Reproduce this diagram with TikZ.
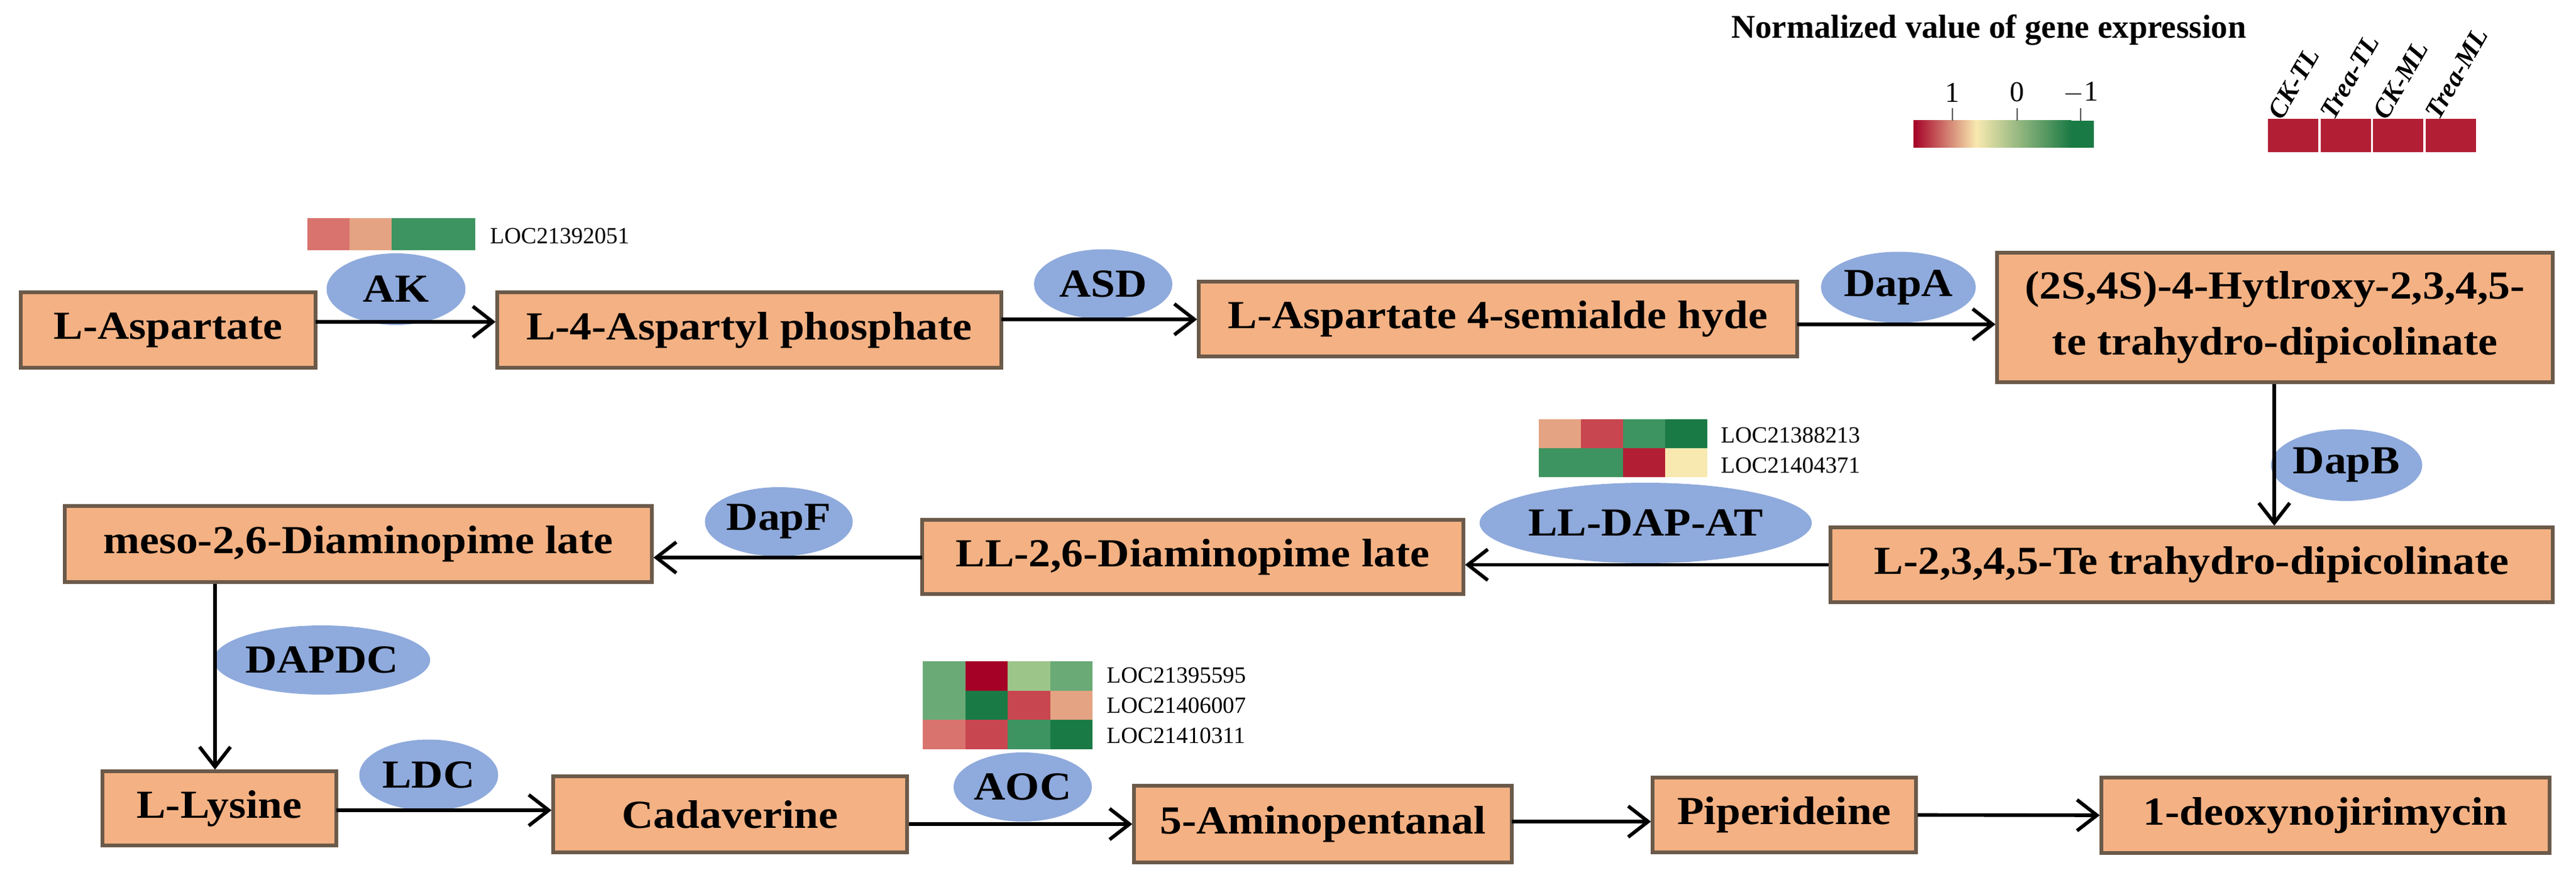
\documentclass[tikz,border=0pt]{standalone}
\usepackage{fontspec}
\setmainfont{Liberation Serif}
\newfontfamily\boxfont[FakeStretch=1.1]{Liberation Serif}
\usetikzlibrary{arrows.meta,shapes.geometric}
\definecolor{boxf}{HTML}{F4B183}
\definecolor{boxd}{HTML}{6B5A4A}
\definecolor{ell}{HTML}{8FAADC}
\definecolor{rA}{HTML}{A50026}
\definecolor{rB}{HTML}{C8464F}
\definecolor{rC}{HTML}{D9736E}
\definecolor{rD}{HTML}{E4A382}
\definecolor{yY}{HTML}{F8E9B0}
\definecolor{gA}{HTML}{1A7A45}
\definecolor{gB}{HTML}{3D9460}
\definecolor{gC}{HTML}{6AAA77}
\definecolor{gD}{HTML}{9CC58A}
\definecolor{rE}{HTML}{B21F35}
\tikzset{
 box/.style={draw=boxd,line width=1.5pt,fill=boxf,inner sep=0pt,align=center,font=\boxfont\fontsize{18}{25.5}\selectfont\bfseries},
 enz/.style={ellipse,fill=ell,inner sep=0pt,font=\boxfont\fontsize{18}{20}\selectfont\bfseries},
 arr/.style={-{Straight Barb[length=9pt,width=14pt]},line width=1.6pt},
 loc/.style={anchor=west,inner sep=0pt,font=\fontsize{10.5}{12}\selectfont}
}
\newcommand{\hmrow}[8]{\fill[#5] (#1,#2) rectangle ++(#3,-#4);\fill[#6] (#1+#3,#2) rectangle ++(#3,-#4);\fill[#7] (#1+2*#3,#2) rectangle ++(#3,-#4);\fill[#8] (#1+3*#3,#2) rectangle ++(#3,-#4);}
\begin{document}
\begin{tikzpicture}[x=1cm,y=1cm]
\useasboundingbox (0,0) rectangle (40.98,-13.92);
% legend
\node[font=\fontsize{15}{17}\selectfont\bfseries] (title) at (31.64,-0.48) {Normalized value of gene expression};
\shade[left color=rA,right color=yY] (30.44,-1.92) rectangle (31.44,-2.35);
\shade[left color=yY,right color=gA] (31.44,-1.92) rectangle (32.95,-2.35);
\fill[gA] (32.95,-1.92) rectangle (33.31,-2.35);
\foreach \x/\t in {31.06/1,32.09/0,33.10/$-$1}{
 \draw[line width=0.6pt,gray!70!black] (\x,-1.92) -- (\x,-1.72);
 \node[font=\fontsize{13}{15}\selectfont] at (\x,-1.47) {\t};}
\foreach \i/\t in {0/CK-TL,1/Trea-TL,2/CK-ML,3/Trea-ML}{
 \fill[rE] (36.08+\i*0.835,-1.89) rectangle ++(0.80,-0.53);
 \node[rotate=60,anchor=west,inner sep=0pt,font=\fontsize{12}{14}\selectfont\bfseries\itshape] at (36.18+\i*0.835,-1.86) {\t};}
% boxes
\node[box,minimum width=4.69cm,minimum height=1.20cm] (asp) at (2.675,-5.25) {L-Aspartate};
\node[box,minimum width=8.02cm,minimum height=1.20cm] (asph) at (11.92,-5.25) {L-4-Aspartyl phosphate};
\node[box,minimum width=9.52cm,minimum height=1.19cm] (asa) at (23.83,-5.075) {L-Aspartate 4-semialde hyde};
\node[box,minimum width=8.84cm,minimum height=2.06cm] (hyd) at (36.19,-5.05) {(2S,4S)-4-Hytlroxy-2,3,4,5-\\te trahydro-dipicolinate};
\node[box,minimum width=11.49cm,minimum height=1.19cm] (thd) at (34.865,-8.985) {L-2,3,4,5-Te trahydro-dipicolinate};
\node[box,minimum width=8.61cm,minimum height=1.18cm] (ll) at (18.975,-8.86) {LL-2,6-Diaminopime late};
\node[box,minimum width=9.34cm,minimum height=1.21cm] (meso) at (5.70,-8.655) {meso-2,6-Diaminopime late};
\node[box,minimum width=3.72cm,minimum height=1.18cm] (lys) at (3.49,-12.86) {L-Lysine};
\node[box,minimum width=5.63cm,minimum height=1.21cm] (cad) at (11.615,-12.955) {Cadaverine};
\node[box,minimum width=6.01cm,minimum height=1.22cm] (ami) at (21.045,-13.11) {5-Aminopentanal};
\node[box,minimum width=4.19cm,minimum height=1.19cm] (pip) at (28.385,-12.965) {Piperideine};
\node[box,minimum width=7.13cm,minimum height=1.20cm] (dnj) at (36.995,-12.97) {1-deoxynojirimycin};
% enzymes
\node[enz,minimum width=2.21cm,minimum height=1.14cm] (ak) at (6.30,-4.60) {AK};
\node[enz,minimum width=2.20cm,minimum height=1.11cm] (asd) at (17.55,-4.52) {ASD};
\node[enz,minimum width=2.19cm,minimum height=1.13cm] (dapa) at (30.20,-4.57) {DapA};
\node[enz,minimum width=2.21cm,minimum height=1.14cm] (dapb) at (37.33,-7.40) {DapB};
\node[enz,minimum width=4.54cm,minimum height=1.28cm] (lldap) at (26.18,-8.32) {LL-DAP-AT};
\node[enz,minimum width=2.18cm,minimum height=1.10cm] (dapf) at (12.39,-8.30) {DapF};
\node[enz,minimum width=3.40cm,minimum height=1.10cm] (dapdc) at (5.12,-10.50) {DAPDC};
\node[enz,minimum width=2.21cm,minimum height=1.13cm] (ldc) at (6.82,-12.33) {LDC};
\node[enz,minimum width=2.20cm,minimum height=1.10cm] (aoc) at (16.27,-12.52) {AOC};
% heatmaps
\hmrow{4.89}{-3.47}{0.6675}{0.51}{rC}{rD}{gB}{gB}
\node[loc] (l1) at (7.79,-3.75) {LOC21392051};
\hmrow{24.48}{-6.67}{0.67}{0.46}{rD}{rB}{gB}{gA}
\hmrow{24.48}{-7.13}{0.67}{0.46}{gB}{gB}{rE}{yY}
\node[loc] (l2) at (27.37,-6.92) {LOC21388213};
\node[loc] (l3) at (27.37,-7.40) {LOC21404371};
\hmrow{14.68}{-10.52}{0.675}{0.467}{gC}{rA}{gD}{gC}
\hmrow{14.68}{-10.987}{0.675}{0.467}{gC}{gA}{rB}{rD}
\hmrow{14.68}{-11.453}{0.675}{0.467}{rC}{rB}{gB}{gA}
\node[loc] (l4) at (17.60,-10.74) {LOC21395595};
\node[loc] (l5) at (17.60,-11.22) {LOC21406007};
\node[loc] (l6) at (17.60,-11.70) {LOC21410311};
% arrows
\coordinate (a1) at (5.02,-5.12);
\draw[arr] (a1) -- (a1 -| asph.west);
\coordinate (a2) at (15.93,-5.08);
\draw[arr] (a2) -- (a2 -| asa.west);
\coordinate (a3) at (28.59,-5.16);
\draw[arr] (a3) -- (a3 -| hyd.west);
\draw[arr] (hyd.south -| 36.18,0) -- (thd.north -| 36.18,0);
\draw[arr] (thd.west) -- (thd.west -| ll.east);
\coordinate (a6) at (14.67,-8.87);
\draw[arr] (a6) -- (a6 -| meso.east);
\draw[arr] (meso.south -| 3.42,0) -- (lys.north -| 3.42,0);
\coordinate (a8) at (5.35,-12.89);
\draw[arr] (a8) -- (a8 -| cad.west);
\draw[arr] (ami.west -| cad.east) -- (ami.west);
\coordinate (a10) at (24.05,-13.07);
\draw[arr] (a10) -- (a10 -| pip.west);
\draw[arr] (pip.east) -- (dnj.west);
\end{tikzpicture}
\end{document}
